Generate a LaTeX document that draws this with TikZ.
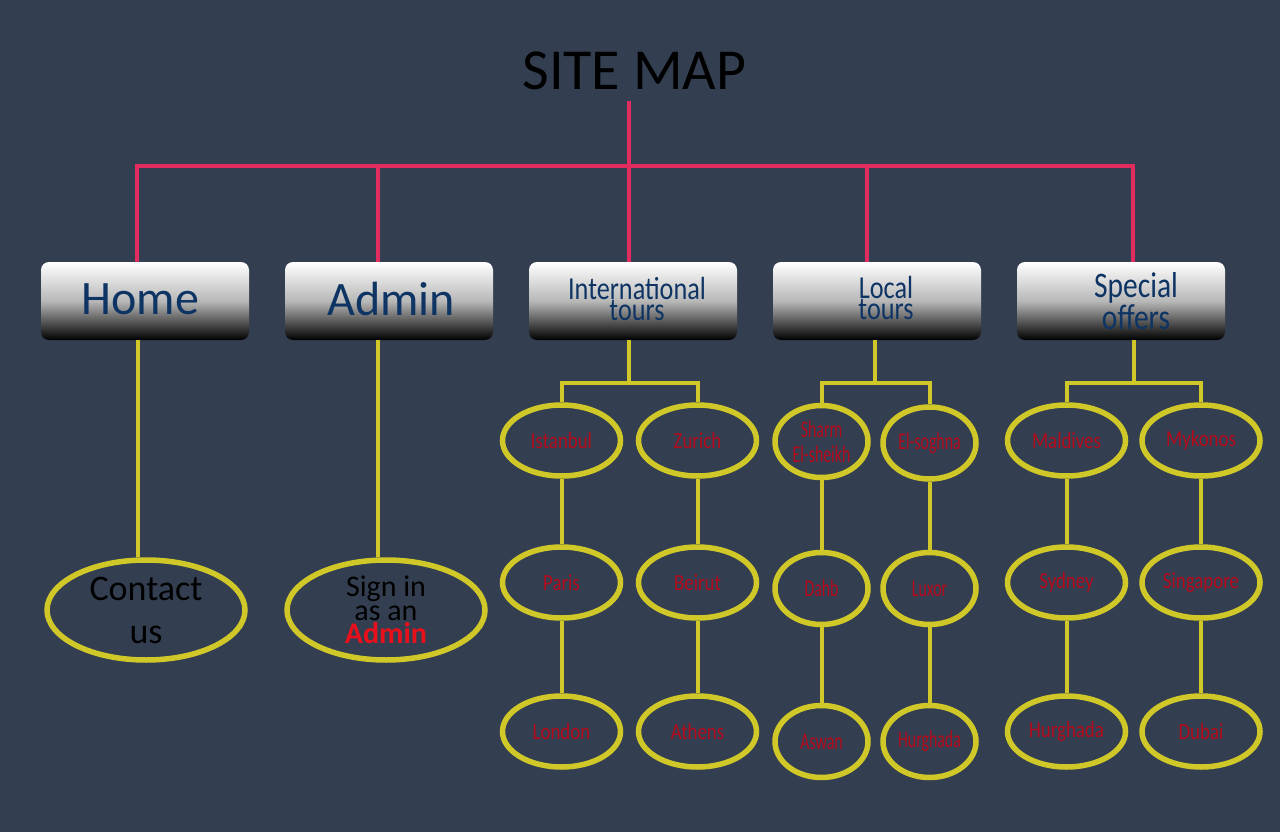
\documentclass[tikz,border=0pt]{standalone}
\usepackage{fontspec}
\setmainfont{Carlito}
\newfontfamily\cityA[FakeStretch=0.82]{Carlito}
\newfontfamily\cityB[FakeStretch=0.66]{Carlito}
\usetikzlibrary{shapes.geometric}
\definecolor{bg}{RGB}{51,63,80}
\definecolor{pinkline}{RGB}{226,44,96}
\definecolor{gold}{RGB}{208,200,40}
\definecolor{navy}{RGB}{14,52,100}
\definecolor{cityred}{RGB}{180,10,28}
\definecolor{adminred}{RGB}{232,16,26}
\begin{document}
\begin{tikzpicture}[x=1pt,y=-1pt,
  plink/.style={draw=pinkline, line width=4.5pt},
  ylink/.style={draw=gold, line width=4pt},
  menubox/.style={rectangle, rounded corners=8pt, minimum width=208pt, minimum height=78pt, inner sep=0pt, top color=white, bottom color=black, middle color=black!28},
  menutext/.style={text=navy, align=center},
  bigoval/.style={ellipse, draw=gold, line width=5.5pt, minimum width=198pt, minimum height=100pt, inner sep=0pt, align=center},
  cityovalA/.style={ellipse, draw=gold, line width=5.5pt, minimum width=118pt, minimum height=71pt, inner sep=0pt, align=center, text=cityred, font=\cityA\fontsize{23}{25}\selectfont},
  cityovalB/.style={ellipse, draw=gold, line width=5.5pt, minimum width=93pt, minimum height=72pt, inner sep=0pt, align=center, text=cityred, font=\cityB\fontsize{24}{25}\selectfont},
]
\useasboundingbox (0,0) rectangle (1280,832);
\fill[bg] (0,0) rectangle (1280,832);

% title
\node[font=\fontsize{58}{60}\selectfont, text=black, inner sep=0pt] (title) at (634.5,70.5) {SITE MAP};

% menu boxes
\node[menubox] (home) at (145,301) {};
\node[menubox] (admin) at (389,301) {};
\node[menubox] (intl) at (633,301) {};
\node[menubox] (local) at (877,301) {};
\node[menubox] (special) at (1121,301) {};

\node[menutext, font=\fontsize{48}{50}\selectfont, inner sep=0pt] (hometxt) at (140.5,299.5) {Home};
\node[menutext, font=\fontsize{48}{50}\selectfont, inner sep=0pt] (admintxt) at (391,299) {Admin};
\node[menutext, font=\cityA\fontsize{32}{17}\selectfont, inner sep=0pt] (intltxt) at (637,299) {International\\tours};
\node[menutext, font=\cityA\fontsize{32}{18}\selectfont, inner sep=0pt] (localtxt) at (886,298) {Local\\tours};
\node[menutext, font=\cityA\fontsize{36}{24}\selectfont, inner sep=0pt] (specialtxt) at (1136,301) {Special\\offers};

% pink connectors
\coordinate (ptop) at (629,101);
\coordinate (pj) at (629,166);
\coordinate (hometop) at ([xshift=-8pt]home.north);
\coordinate (admintop) at ([xshift=-11pt]admin.north);
\coordinate (intltop) at ([xshift=-4pt]intl.north);
\coordinate (localtop) at ([xshift=-10pt]local.north);
\coordinate (specialtop) at ([xshift=12pt]special.north);
\draw[plink] (ptop) -- (pj);
\draw[plink] (hometop) -- (hometop |- pj) -- (specialtop |- pj) -- (specialtop);
\draw[plink] (admintop) -- (admintop |- pj);
\draw[plink] (intltop) -- (intltop |- pj);
\draw[plink] (localtop) -- (localtop |- pj);

% ovals
\node[bigoval, text=black, font=\fontsize{36}{43}\selectfont] (contact) at (146,610) {Contact\\us};
\node[bigoval, text=black, font=\fontsize{30}{23.5}\selectfont] (signin) at (386,610) {Sign in\\as an\\\textcolor{adminred}{\bfseries Admin}};

\node[cityovalA] (istanbul) at (561.5,440.5) {Istanbul};
\node[cityovalA] (zurich) at (697.5,440.5) {Zurich};
\node[cityovalA] (paris) at (561.5,582.5) {Paris};
\node[cityovalA] (beirut) at (697.5,582.5) {Beirut};
\node[cityovalA] (london) at (561.5,731.5) {London};
\node[cityovalA] (athens) at (697.5,731.5) {Athens};

\node[cityovalB] (sharm) at (821.5,441.5) {Sharm\\El-sheikh};
\node[cityovalB] (soghna) at (929.5,443) {El-soghna};
\node[cityovalB] (dahb) at (821.5,588.5) {Dahb};
\node[cityovalB] (luxor) at (929.5,588.5) {Luxor};
\node[cityovalB] (aswan) at (821.5,741.5) {Aswan};
\node[cityovalB] (hurgl) at (929.5,741.5) {Hurghada};

\node[cityovalA] (maldives) at (1066.5,440.5) {Maldives};
\node[cityovalA] (mykonos) at (1201,440.5) {Mykonos};
\node[cityovalA] (sydney) at (1066.5,582.5) {Sydney};
\node[cityovalA] (singapore) at (1201,582.5) {Singapore};
\node[cityovalA] (hurgs) at (1066.5,731.5) {Hurghada};
\node[cityovalA] (dubai) at (1201,731.5) {Dubai};

% yellow connectors
\coordinate (homebot) at ([xshift=-7pt]home.south);
\coordinate (adminbot) at ([xshift=-11pt]admin.south);
\draw[ylink] (homebot) -- (homebot |- contact.north);
\draw[ylink] (adminbot) -- (adminbot |- signin.north);

\coordinate (ij) at (629,383);
\draw[ylink] ([xshift=-4pt]intl.south) -- (ij);
\draw[ylink] (istanbul.north) |- (ij) -| (zurich.north);
\draw[ylink] (istanbul.south) -- (paris.north);
\draw[ylink] (paris.south) -- (london.north);
\draw[ylink] (zurich.south) -- (beirut.north);
\draw[ylink] (beirut.south) -- (athens.north);

\coordinate (lj) at (875,383);
\draw[ylink] ([xshift=-2pt]local.south) -- (lj);
\draw[ylink] (sharm.north) |- (lj) -| (soghna.north);
\draw[ylink] (sharm.south) -- (dahb.north);
\draw[ylink] (dahb.south) -- (aswan.north);
\draw[ylink] (soghna.south) -- (luxor.north);
\draw[ylink] (luxor.south) -- (hurgl.north);

\coordinate (sj) at (1134,383);
\draw[ylink] ([xshift=13pt]special.south) -- (sj);
\draw[ylink] (maldives.north) |- (sj) -| (mykonos.north);
\draw[ylink] (maldives.south) -- (sydney.north);
\draw[ylink] (sydney.south) -- (hurgs.north);
\draw[ylink] (mykonos.south) -- (singapore.north);
\draw[ylink] (singapore.south) -- (dubai.north);
\end{tikzpicture}
\end{document}
